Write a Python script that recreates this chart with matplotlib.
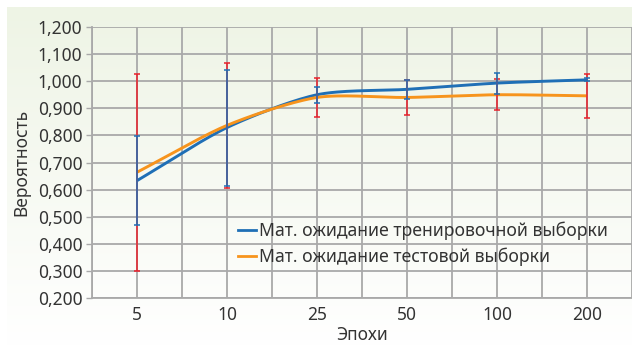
import numpy as np
import matplotlib
matplotlib.use("Agg")
import matplotlib.pyplot as plt
from matplotlib.lines import Line2D

plt.rcParams['font.family'] = ['Noto Sans', 'DejaVu Sans']

categories = ["5", "10", "25", "50", "100", "200"]
train_mean = [0.633, 0.829, 0.950, 0.970, 0.993, 1.005]
train_err = [0.165, 0.214, 0.029, 0.035, 0.039, 0.006]
test_mean = [0.664, 0.837, 0.940, 0.940, 0.950, 0.946]
test_err = [0.364, 0.230, 0.072, 0.064, 0.058, 0.080]
y_ticks = [0.2, 0.3, 0.4, 0.5, 0.6, 0.7, 0.8, 0.9, 1.0, 1.1, 1.2]
legend_labels = ["Мат. ожидание тренировочной выборки", "Мат. ожидание тестовой выборки"]

BLUE = "#1f6fb6"
ORANGE = "#f7941d"
RED = "#e8202a"
GRID = "#a9a9a9"
TXT = "#333333"


def smooth_curve(x, y, n=30, tension=0.8):
    x = np.asarray(x, float); y = np.asarray(y, float)
    px = np.concatenate([[2 * x[0] - x[1]], x, [2 * x[-1] - x[-2]]])
    py = np.concatenate([[2 * y[0] - y[1]], y, [2 * y[-1] - y[-2]]])
    xs, ys = [], []
    t = np.linspace(0, 1, n)
    for i in range(1, len(px) - 2):
        p0, p1, p2, p3 = [np.array([px[j], py[j]]) for j in (i - 1, i, i + 1, i + 2)]
        m1 = tension * 0.5 * (p2 - p0)
        m2 = tension * 0.5 * (p3 - p1)
        for tt in t:
            h00 = 2 * tt**3 - 3 * tt**2 + 1
            h10 = tt**3 - 2 * tt**2 + tt
            h01 = -2 * tt**3 + 3 * tt**2
            h11 = tt**3 - tt**2
            pt = h00 * p1 + h10 * m1 + h01 * p2 + h11 * m2
            xs.append(pt[0]); ys.append(pt[1])
    return np.array(xs), np.array(ys)


fig = plt.figure(figsize=(6.32, 3.46), dpi=100)
fig.patch.set_facecolor("white")

# gradient background panel
bg = fig.add_axes([7 / 632, 0, 1 - 7 / 632, 1 - 7 / 346], zorder=-10)
grad = np.linspace(0, 1, 256)[:, None]
top = np.array([238, 244, 229]) / 255.0
bot = np.array([255, 255, 255]) / 255.0
img = top[None, None, :] * (1 - grad[:, :, None]) + bot[None, None, :] * grad[:, :, None]
img = np.repeat(img, 2, axis=1)
bg.imshow(img, aspect="auto", extent=[0, 1, 0, 1])
bg.axis("off")

ax = fig.add_axes([92 / 632, 48 / 346, 540 / 632, 271 / 346])
ax.patch.set_alpha(0)

xpos = np.arange(len(categories))
ax.set_xlim(-0.5, len(categories) - 0.5)
ax.set_ylim(0.2, 1.2)

for v in np.arange(-0.5, len(categories), 0.5):
    ax.axvline(v, color=GRID, lw=1.3, zorder=0)
for v in y_ticks:
    ax.axhline(v, color=GRID, lw=1.3, zorder=0)

sx, sy = smooth_curve(xpos, train_mean)
ax.plot(sx, sy, color=BLUE, lw=2.1, zorder=3, solid_capstyle="butt")
sx2, sy2 = smooth_curve(xpos, test_mean)
ax.plot(sx2, sy2, color=ORANGE, lw=2.1, zorder=3, solid_capstyle="butt")

ax.errorbar(xpos, test_mean, yerr=test_err, fmt="none", ecolor=RED, elinewidth=1.1,
            capsize=2.5, capthick=1.1, zorder=4)
ax.errorbar(xpos, train_mean, yerr=train_err, fmt="none", ecolor=BLUE, elinewidth=1.1,
            capsize=2.5, capthick=1.1, zorder=4)

ax.set_xticks(xpos)
ax.set_xticklabels(categories)
ax.set_yticks(y_ticks)
ax.set_yticklabels([f"{v:.3f}".replace(".", ",") for v in y_ticks])
ax.tick_params(axis="x", length=0, pad=6, labelsize=12.5, labelcolor=TXT)
ax.tick_params(axis="y", length=4, width=1, color=GRID, pad=3, labelsize=12.5, labelcolor=TXT)
for s in ["top", "right"]:
    ax.spines[s].set_visible(False)
for s in ["left", "bottom"]:
    ax.spines[s].set_color(GRID)
    ax.spines[s].set_linewidth(1.3)

ax.set_xlabel("Эпохи", fontsize=12.5, color=TXT, labelpad=1)
ax.set_ylabel("Вероятность", fontsize=12.5, color=TXT, labelpad=5)

handles = [Line2D([], [], color=BLUE, lw=2), Line2D([], [], color=ORANGE, lw=2)]
leg = ax.legend(handles, legend_labels, loc="upper left",
                bbox_to_anchor=(238 / 632, 1 - 222 / 346), bbox_transform=fig.transFigure,
                frameon=False, fontsize=12.7, handlelength=1.0, handletextpad=0.2,
                labelspacing=0.42, borderaxespad=0, borderpad=0)
for t in leg.get_texts():
    t.set_color(TXT)

fig.savefig("out.png", dpi=100)
